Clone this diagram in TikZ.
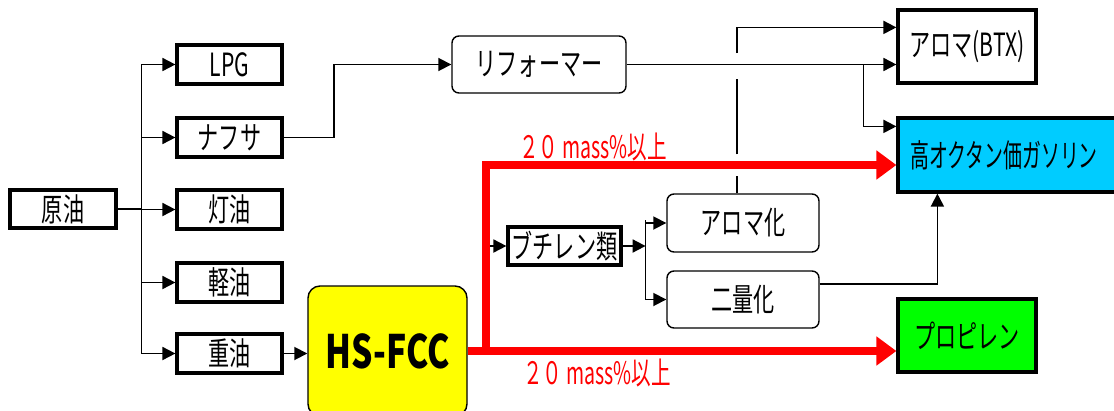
\documentclass[tikz,border=0pt]{standalone}
\usepackage{fontspec}
\usepackage{graphicx}
\setmainfont{Noto Sans CJK JP}
\usetikzlibrary{arrows.meta,calc}
\definecolor{gascyan}{HTML}{00CCFF}
\definecolor{propgreen}{HTML}{00FF00}
\definecolor{fccyellow}{HTML}{FFFF00}
\definecolor{rd}{HTML}{FF0000}
\newcommand\nw[1]{\scalebox{0.66}[1]{#1}}
\begin{document}
\begin{tikzpicture}[x=1pt,y=-1pt,
  tbox/.style={draw,line width=3.2pt,inner sep=0pt,font=\fontsize{32}{34}\selectfont},
  rbox/.style={draw,line width=1.4pt,rounded corners=7pt,inner sep=0pt,font=\fontsize{32}{34}\selectfont},
  arr/.style={line width=1.8pt,-{Triangle[length=13pt,width=13pt]}},
  ln/.style={line width=1.6pt},
  redarr/.style={draw=rd,line width=8pt,-{Triangle[length=20pt,width=28pt]}},
  redlbl/.style={text=rd,font=\fontsize{31}{33}\selectfont}
]
\useasboundingbox (0,0) rectangle (1114,410);

% nodes
\node[tbox,minimum width=106pt,minimum height=38pt] (crude) at (63,209) {\nw{原油}};
\node[tbox,minimum width=105pt,minimum height=39pt] (lpg) at (229.5,64.5) {\nw{LPG}};
\node[tbox,minimum width=105pt,minimum height=39pt] (naph) at (229.5,137.5) {\nw{ナフサ}};
\node[tbox,minimum width=105pt,minimum height=39pt] (kero) at (229.5,209.5) {\nw{灯油}};
\node[tbox,minimum width=105pt,minimum height=39pt] (gasoil) at (229.5,282.5) {\nw{軽油}};
\node[tbox,minimum width=105pt,minimum height=39pt] (heavy) at (229.5,353.5) {\nw{重油}};
\node[rbox,minimum width=174pt,minimum height=57pt] (ref) at (539,64.5) {\nw{リフォーマー}};
\node[tbox,minimum width=138pt,minimum height=73pt] (btx) at (967,46.5) {\nw{アロマ(BTX)}};
\node[tbox,fill=gascyan,minimum width=226pt,minimum height=74pt,
  label={[xshift=-7pt,font=\fontsize{32}{34}\selectfont]center:\scalebox{0.59}[1]{高オクタン価ガソリン}}] (gas) at (1011,155) {};
\node[rbox,fill=fccyellow,minimum width=159pt,minimum height=130pt,rounded corners=12pt,
  font=\fontsize{46}{48}\selectfont\bfseries] (fcc) at (387.5,351) {\scalebox{0.73}[1]{HS-FCC}};
\node[tbox,minimum width=113pt,minimum height=38pt] (but) at (564.5,246) {\nw{ブチレン類}};
\node[rbox,minimum width=152pt,minimum height=58pt] (aro) at (743,223) {\nw{アロマ化}};
\node[rbox,minimum width=152pt,minimum height=57pt] (dim) at (743,299.5) {\nw{二量化}};
\node[tbox,fill=propgreen,minimum width=138pt,minimum height=73pt] (prop) at (967,335.5) {\nw{プロピレン}};
\node[redlbl] (l1) at (593,147) {\scalebox{0.63}[1]{２０ mass\%以上}};
\node[redlbl] (l2) at (597,373) {\scalebox{0.63}[1]{２０ mass\%以上}};

% crude distillation
\coordinate (bt) at ($(lpg.west)+(-34,0)$);
\coordinate (bb) at ($(heavy.west)+(-34,0)$);
\draw[ln] (bt) -- (bb);
\draw[ln] (crude.east) -- (crude.east -| bt);
\foreach \n in {lpg,naph,kero,gasoil,heavy} \draw[arr] (\n.west -| bt) -- (\n.west);

% naphtha -> reformer -> BTX / gasoline
\draw[arr] (naph.east) -- ++(50,0) |- (ref.west);
\draw[arr] (ref.east) -- (ref.east -| btx.west);
\coordinate (rb) at ($(btx.west |- ref.east)+(-33,0)$);
\draw[arr] (rb) |- ($(gas.north west)+(0,10)$);

% heavy oil -> HS-FCC
\draw[arr] (heavy.east) -- (heavy.east -| fcc.west);

% HS-FCC outputs
\coordinate (rj) at ($(fcc.east)+(18,0)$);
\draw[arr] (rj |- but.west) -- (but.west);
\draw[redarr] (fcc.east) -- (fcc.east -| prop.west);
\draw[redarr] (rj) |- ($(gas.west)+(0,10)$);

% butylenes
\draw[arr] (but.east) -- ++(23,0) coordinate (bs);
\draw[ln] ($(bs |- aro.west)+(0,-3)$) -- (bs |- dim.west);
\draw[arr] (bs |- aro.west) -- (aro.west);
\draw[arr] (bs |- dim.west) -- (dim.west);

% aromatization -> BTX (with line jumps)
\coordinate (av) at ($(aro.north)+(-6,0)$);
\coordinate (at) at ($(btx.north west)+(0,19)$);
\draw[ln] (av) -- ++(0,-17);
\draw[ln] ($(av)+(0,-39)$) -- ($(av |- ref.east)+(0,14.5)$);
\draw[arr] ($(av |- ref.east)+(0,-11.5)$) |- (at);

% dimerization -> gasoline
\draw[arr] ($(dim.east)+(0,-15.5)$) -| ($(gas.south west)+(41,0)$);
\end{tikzpicture}
\end{document}
